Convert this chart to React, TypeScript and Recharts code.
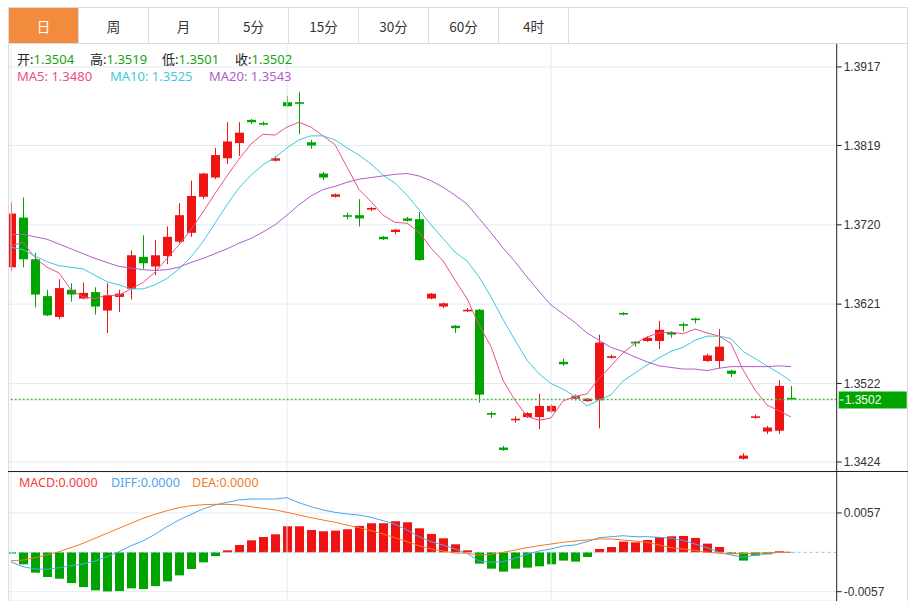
import React from "react";
import {
  ComposedChart,
  Bar,
  Line,
  XAxis,
  YAxis,
  CartesianGrid,
  ReferenceLine,
  Cell,
} from "recharts";

// daily candles
const opens = [
  1.3667, 1.3729, 1.3677, 1.3631, 1.3605, 1.3639, 1.3628, 1.3636, 1.3613, 1.363,
  1.364, 1.368, 1.3668, 1.3681, 1.3699, 1.371, 1.3755, 1.3779, 1.3803, 1.3822,
  1.3851, 1.3847, 1.38, 1.3873, 1.3873, 1.3823, 1.3784, 1.3755, 1.3732, 1.3732,
  1.3739, 1.3705, 1.3711, 1.3728, 1.3727, 1.3628, 1.3618, 1.3594, 1.3612, 1.3614,
  1.3485, 1.3442, 1.3476, 1.348, 1.348, 1.3487, 1.3549, 1.3503, 1.35, 1.3501,
  1.3554, 1.361, 1.3574, 1.3575, 1.3575, 1.3586, 1.3596, 1.3603, 1.355, 1.355,
  1.3538, 1.3428, 1.3479, 1.3462, 1.3463, 1.3504,
];
const highs = [
  1.3748, 1.3754, 1.3685, 1.3639, 1.3652, 1.3647, 1.3648, 1.3642, 1.3647, 1.3639,
  1.3688, 1.3707, 1.3701, 1.3718, 1.3747, 1.3775, 1.3785, 1.3816, 1.3848, 1.3848,
  1.3852, 1.3849, 1.3806, 1.3881, 1.3886, 1.3826, 1.3786, 1.3759, 1.3735, 1.3752,
  1.3742, 1.3706, 1.3715, 1.373, 1.3736, 1.3635, 1.3623, 1.3595, 1.3616, 1.3615,
  1.3487, 1.3444, 1.3481, 1.3486, 1.3509, 1.3496, 1.3553, 1.3508, 1.3504, 1.3583,
  1.3558, 1.3611, 1.3575, 1.3581, 1.36, 1.3587, 1.3598, 1.3604, 1.3559, 1.359,
  1.3539, 1.3435, 1.3483, 1.3469, 1.3526, 1.3519,
];
const lows = [
  1.3662, 1.3667, 1.3617, 1.3606, 1.3602, 1.3624, 1.3627, 1.3608, 1.3585, 1.3611,
  1.3627, 1.3665, 1.3657, 1.3671, 1.3697, 1.3705, 1.3752, 1.3777, 1.3796, 1.3806,
  1.3846, 1.3844, 1.3799, 1.3867, 1.3833, 1.3815, 1.3776, 1.3754, 1.3727, 1.3718,
  1.3737, 1.3701, 1.3708, 1.3724, 1.3675, 1.3627, 1.3616, 1.3585, 1.3611, 1.3498,
  1.3479, 1.3438, 1.3473, 1.3479, 1.3465, 1.3485, 1.3544, 1.3501, 1.3499, 1.3466,
  1.3553, 1.3607, 1.3568, 1.3574, 1.3565, 1.3579, 1.3587, 1.3597, 1.3549, 1.3541,
  1.353, 1.3427, 1.3478, 1.3459, 1.3459, 1.3501,
];
const closes = [
  1.3734, 1.3677, 1.3633, 1.3607, 1.3641, 1.3633, 1.3635, 1.3618, 1.3632, 1.3634,
  1.3682, 1.3672, 1.3682, 1.3705, 1.3732, 1.3756, 1.3784, 1.3807, 1.3824, 1.3835,
  1.3848, 1.3845, 1.3803, 1.3868, 1.3871, 1.3819, 1.3779, 1.3758, 1.373, 1.3728,
  1.3741, 1.3702, 1.3714, 1.3725, 1.3676, 1.3634, 1.3622, 1.3591, 1.3614, 1.3508,
  1.3483, 1.3439, 1.3478, 1.3485, 1.3494, 1.3494, 1.3546, 1.3506, 1.3503, 1.3573,
  1.3556, 1.3608, 1.3572, 1.3579, 1.3589, 1.3583, 1.3594, 1.3601, 1.3557, 1.3568,
  1.3534, 1.3432, 1.3481, 1.3467, 1.3519, 1.3502,
];

const ma5 = [
  1.3694, 1.3698, 1.3679, 1.3667, 1.366, 1.3639, 1.363, 1.3628, 1.3632, 1.3632,
  1.364, 1.3648, 1.3661, 1.3678, 1.3695, 1.3714, 1.3736, 1.3759, 1.3781, 1.3802,
  1.3821, 1.3833, 1.3832, 1.3842, 1.3848, 1.3842, 1.3831, 1.382, 1.3792, 1.3764,
  1.3749, 1.3732, 1.3723, 1.3722, 1.3711, 1.3691, 1.3675, 1.3651, 1.3628, 1.3595,
  1.3568, 1.3526, 1.3501, 1.3481, 1.3476, 1.3479, 1.35, 1.3506, 1.3509, 1.3528,
  1.3544, 1.356, 1.3572, 1.358, 1.3585, 1.3586, 1.3584, 1.359, 1.3585, 1.3581,
  1.3572, 1.3539, 1.3514, 1.3495, 1.3488, 1.348,
];
const ma10 = [
  1.3692, 1.3689, 1.3681, 1.3674, 1.3669, 1.3667, 1.3665, 1.3657, 1.3649, 1.3645,
  1.364, 1.364, 1.3645, 1.3653, 1.3665, 1.368, 1.3699, 1.3722, 1.3745, 1.3766,
  1.3782, 1.3795, 1.3804, 1.3816, 1.3826, 1.3831, 1.3831, 1.3826, 1.3816, 1.3807,
  1.3796, 1.3782, 1.3772, 1.3757, 1.3739, 1.372, 1.3703, 1.3686, 1.3675, 1.3655,
  1.363, 1.3602, 1.3576, 1.3551, 1.3534, 1.3522, 1.3515, 1.3506, 1.3494, 1.3501,
  1.3508, 1.3525, 1.3535, 1.3545, 1.3554, 1.3562, 1.3567, 1.3576, 1.3581, 1.3581,
  1.3578, 1.3562, 1.3553, 1.3544, 1.3535, 1.3525,
];
const ma20 = [
  1.3708, 1.3708, 1.3705, 1.3702, 1.3696, 1.369, 1.3684, 1.3678, 1.3673, 1.3668,
  1.3666, 1.3664, 1.3663, 1.3664, 1.3667, 1.3673, 1.3678, 1.3684, 1.369, 1.3697,
  1.3703, 1.3711, 1.372, 1.3732, 1.3745, 1.3756, 1.3764, 1.3768, 1.3773, 1.3777,
  1.3779, 1.3781, 1.3783, 1.3784, 1.3781, 1.3775, 1.3767, 1.3757, 1.3746, 1.3728,
  1.371, 1.3691, 1.3674, 1.3655, 1.3637, 1.362, 1.3609, 1.3598, 1.3585, 1.3576,
  1.3567, 1.3562, 1.3555, 1.3549, 1.3544, 1.3542, 1.354, 1.354, 1.3538, 1.3541,
  1.3543, 1.3543, 1.3543, 1.3543, 1.3544, 1.3543,
];

const macdHist = [
  -0.00018, -0.00174, -0.00295, -0.00358, -0.00382, -0.00445, -0.00503, -0.00551, -0.00566, -0.00561,
  -0.00522, -0.00532, -0.00489, -0.00421, -0.00334, -0.00242, -0.00145, -0.00054, 0.00029, 0.00106,
  0.00174, 0.00222, 0.00261, 0.00377, 0.00377, 0.00324, 0.00305, 0.00314, 0.00334, 0.00382,
  0.00421, 0.00421, 0.0045, 0.00435, 0.00348, 0.00266, 0.00203, 0.00116, 0.00029, -0.00164,
  -0.00237, -0.0028, -0.00237, -0.00222, -0.00203, -0.00174, -0.0012, -0.00135, -0.00068, 0.00048,
  0.00077, 0.00155, 0.00145, 0.00178, 0.00222, 0.00232, 0.00237, 0.00208, 0.00126, 0.00077,
  -0.00024, -0.0012, -0.00048, -0.00029, 0.00015, -0.00003,
];
const diff = [
  -0.00136, -0.00209, -0.00242, -0.00246, -0.00223, -0.00194, -0.00169, -0.00126, -0.00064, 0.00009,
  0.00096, 0.00164, 0.00261, 0.00371, 0.00468, 0.0055, 0.00627, 0.00685, 0.00724, 0.00758,
  0.00772, 0.00772, 0.00772, 0.00791, 0.00718, 0.0066, 0.00613, 0.00579, 0.00555, 0.0054,
  0.00507, 0.00458, 0.00406, 0.00323, 0.00226, 0.00154, 0.00106, 0.00048, -0.00014, -0.00126,
  -0.00145, -0.00136, -0.00087, -0.00029, 0.00019, 0.00048, 0.00091, 0.00106, 0.00154, 0.00211,
  0.00226, 0.0024, 0.00226, 0.00226, 0.00217, 0.00203, 0.00174, 0.0012, 0.00067, 0.0,
  -0.00039, -0.00072, -0.00039, -0.0002, 0.0, 0.0,
];
const dea = [
  -0.00122, -0.00112, -0.00078, -0.00039, 0.00009, 0.00067, 0.0013, 0.00203, 0.00275, 0.00348,
  0.0042, 0.00492, 0.0055, 0.00603, 0.00646, 0.00675, 0.00689, 0.00695, 0.00695, 0.00685,
  0.0066, 0.00637, 0.00613, 0.00579, 0.0054, 0.00501, 0.00468, 0.00435, 0.00395, 0.00356,
  0.00313, 0.00265, 0.00211, 0.00154, 0.00096, 0.00048, 0.00019, -0.0001, -0.00014, -0.00039,
  -0.00029, 0.0, 0.00033, 0.00067, 0.00096, 0.0012, 0.00145, 0.00164, 0.00178, 0.00193,
  0.00193, 0.00178, 0.00164, 0.00145, 0.00106, 0.00067, 0.00048, 0.00029, 0.0, -0.00014,
  -0.0002, -0.0002, -0.00014, -0.00006, 0.0, 0.0,
];

const priceTicks = [1.3424, 1.3522, 1.3621, 1.372, 1.3819, 1.3917];
const macdTicks = [-0.0057, 0.0057];
const monthStarts = [0, 23, 45];
const lastPrice = 1.3502;
const tabs = ["日", "周", "月", "5分", "15分", "30分", "60分", "4时"];

const RED = "#f01313";
const GREEN = "#00a400";
const GRID = "#e3ebf2";
const C_MA5 = "#ec4e87";
const C_MA10 = "#3ec8de";
const C_MA20 = "#b25ccb";
const C_DIFF = "#4ba5f0";
const C_DEA = "#f47a1f";
const AXIS_FONT = '"Liberation Sans", Arial, sans-serif';
const TEXT_FONT = '"Noto Sans", "Noto Sans CJK SC", sans-serif';

const data = opens.map((open, i) => ({
  i,
  open,
  high: highs[i],
  low: lows[i],
  close: closes[i],
  ma5: ma5[i],
  ma10: ma10[i],
  ma20: ma20[i],
  macd: macdHist[i],
  diff: diff[i],
  dea: dea[i],
}));

function Candle(props: any) {
  const { x, y, width, height, payload } = props;
  if (x == null || y == null) return null;
  const { open, close, high, low } = payload;
  const top = Math.min(y, y + height);
  const h = Math.abs(height);
  const k = high > low ? h / (high - low) : 0;
  const yOf = (v: number) => top + (high - v) * k;
  const color = close >= open ? RED : GREEN;
  const bodyTop = yOf(Math.max(open, close));
  const bodyH = Math.max(1, yOf(Math.min(open, close)) - bodyTop);
  const cx = Math.round(x + width / 2 - 0.5) + 0.5;
  return (
    <g>
      <line x1={cx} x2={cx} y1={top} y2={top + h} stroke={color} strokeWidth={1} />
      <rect x={cx - 4.5} y={bodyTop} width={9} height={bodyH} fill={color} />
    </g>
  );
}

function PriceTag(props: any) {
  const { viewBox } = props;
  if (!viewBox) return null;
  const right = viewBox.x + viewBox.width;
  const y = viewBox.y;
  return (
    <g>
      <rect x={right + 2} y={y - 8} width={68} height={17} fill="#00a500" />
      <line x1={right + 3} x2={right + 7} y1={y + 0.5} y2={y + 0.5} stroke="#fff" />
      <text x={right + 8} y={y + 5} fill="#fff" fontSize={12} fontFamily={AXIS_FONT}>
        {lastPrice.toFixed(4)}
      </text>
    </g>
  );
}

const fmt = (v: number) => v.toFixed(4);

const quoteItems: [string, number, number][] = [
  ["开", opens[65], 17],
  ["高", highs[65], 90],
  ["低", lows[65], 162],
  ["收", closes[65], 235],
];
const maItems: [string, number, string, number][] = [
  ["MA5", ma5[65], C_MA5, 17],
  ["MA10", ma10[65], C_MA10, 110],
  ["MA20", ma20[65], C_MA20, 209],
];
const macdItems: [string, string, number][] = [
  ["MACD", "#f03c3c", 19],
  ["DIFF", C_DIFF, 111],
  ["DEA", C_DEA, 192],
];

export default function App() {
  const chartW = 903;
  const axisW = 71.3;
  const label: React.CSSProperties = {
    position: "absolute",
    whiteSpace: "nowrap",
    lineHeight: "17px",
  };
  return (
    <div
      style={{
        position: "absolute",
        left: 0,
        top: 0,
        width: 916,
        height: 601,
        overflow: "hidden",
        background: "#fff",
        fontFamily: TEXT_FONT,
      }}
    >
      {/* charts, clipped on the left by the panel border */}
      <div
        style={{
          position: "absolute",
          left: 9,
          top: 43,
          width: 898,
          height: 558,
          overflow: "hidden",
        }}
      >
        <div style={{ position: "absolute", left: -3.7, top: 0 }}>
          <ComposedChart
            width={chartW}
            height={429}
            data={data}
            margin={{ top: 0, right: 0, bottom: 0, left: 0 }}
          >
            <CartesianGrid vertical={false} stroke={GRID} />
            <XAxis dataKey="i" type="category" hide height={0} padding={{ left: 0, right: 39.7 }} />
            <YAxis
              orientation="right"
              width={axisW}
              domain={[1.34115, 1.39469]}
              allowDataOverflow
              ticks={priceTicks}
              interval={0}
              tickFormatter={fmt}
              axisLine={{ stroke: "#222" }}
              tickLine={{ stroke: "#222" }}
              tickSize={5}
              tick={{ fill: "#333", fontSize: 12, fontFamily: AXIS_FONT }}
            />
            {monthStarts.map((m) => (
              <ReferenceLine key={m} x={m} stroke={GRID} />
            ))}
            <ReferenceLine
              y={lastPrice}
              stroke="#3fbf3f"
              strokeWidth={1.3}
              strokeDasharray="2 2"
              label={<PriceTag />}
            />
            <Bar
              dataKey={(d: any) => [d.low, d.high]}
              barSize={9}
              shape={<Candle />}
              isAnimationActive={false}
            />
            <Line dataKey="ma5" stroke={C_MA5} dot={false} strokeWidth={1} isAnimationActive={false} />
            <Line dataKey="ma10" stroke={C_MA10} dot={false} strokeWidth={1} isAnimationActive={false} />
            <Line dataKey="ma20" stroke={C_MA20} dot={false} strokeWidth={1} isAnimationActive={false} />
          </ComposedChart>
        </div>
        <div style={{ position: "absolute", left: -3.7, top: 429 }}>
          <ComposedChart
            width={chartW}
            height={129}
            data={data}
            margin={{ top: 0, right: 0, bottom: 0, left: 0 }}
          >
            <CartesianGrid vertical={false} stroke={GRID} />
            <XAxis dataKey="i" type="category" hide height={0} padding={{ left: 0, right: 39.7 }} />
            <YAxis
              orientation="right"
              width={axisW}
              domain={[-0.00705, 0.01163]}
              allowDataOverflow
              ticks={macdTicks}
              interval={0}
              tickFormatter={fmt}
              axisLine={{ stroke: "#222" }}
              tickLine={{ stroke: "#222" }}
              tickSize={5}
              tick={{ fill: "#333", fontSize: 12, fontFamily: AXIS_FONT }}
            />
            {monthStarts.map((m) => (
              <ReferenceLine key={m} x={m} stroke={GRID} />
            ))}
            <ReferenceLine y={0} stroke="#95c6de" strokeDasharray="3 3" />
            <Bar dataKey="macd" barSize={9} isAnimationActive={false}>
              {data.map((d) => (
                <Cell key={d.i} fill={d.macd >= 0 ? RED : GREEN} />
              ))}
            </Bar>
            <Line dataKey="diff" stroke={C_DIFF} dot={false} strokeWidth={1} isAnimationActive={false} />
            <Line dataKey="dea" stroke={C_DEA} dot={false} strokeWidth={1} isAnimationActive={false} />
          </ComposedChart>
        </div>
      </div>

      {/* panel frame */}
      <div style={{ position: "absolute", left: 8, top: 43, width: 1, height: 558, background: "#dcdcdc" }} />
      <div style={{ position: "absolute", left: 907, top: 43, width: 1, height: 558, background: "#dcdcdc" }} />
      <div style={{ position: "absolute", left: 8, top: 471, width: 900, height: 1, background: "#222" }} />

      {/* period tabs */}
      <div
        style={{
          position: "absolute",
          left: 8,
          top: 7,
          width: 900,
          height: 37,
          boxSizing: "border-box",
          border: "1px solid #dcdcdc",
          display: "flex",
          background: "#fff",
        }}
      >
        {tabs.map((t, k) => (
          <div
            key={t}
            style={{
              width: 70,
              height: "100%",
              boxSizing: "border-box",
              borderRight: "1px solid #dcdcdc",
              background: k === 0 ? "#f28b3e" : "#fff",
              color: k === 0 ? "#fff" : "#333",
              fontSize: 13.5,
              fontFamily: '"Noto Sans CJK SC", sans-serif',
              display: "flex",
              alignItems: "center",
              justifyContent: "center",
            }}
          >
            {t}
          </div>
        ))}
      </div>

      {/* quote header */}
      {quoteItems.map(([k, v, left]) => (
        <div key={k} style={{ ...label, left, top: 51, fontSize: 13 }}>
          <span style={{ color: "#222" }}>{k}:</span>
          <span style={{ color: "#15a215" }}>{v.toFixed(4)}</span>
        </div>
      ))}
      {maItems.map(([name, v, color, left]) => (
        <div key={name} style={{ ...label, left, top: 68, fontSize: 13, color }}>
          {name}: {v.toFixed(4)}
        </div>
      ))}
      {macdItems.map(([name, color, left]) => (
        <div key={name} style={{ ...label, left, top: 474, fontSize: 12.5, color }}>
          {name}:{(0).toFixed(4)}
        </div>
      ))}
    </div>
  );
}
